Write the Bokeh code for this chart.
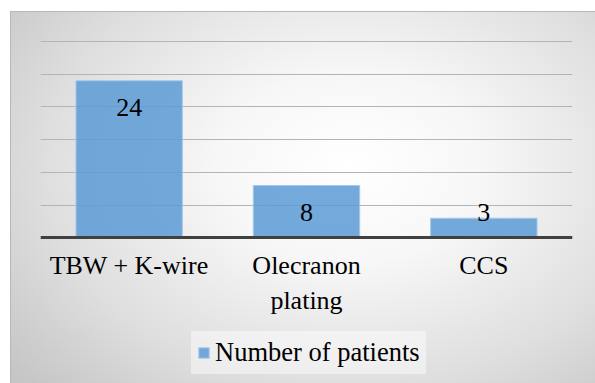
from bokeh.plotting import figure
from bokeh.models import (FactorRange, Range1d, ColumnDataSource, Legend, LegendItem,
                          FixedTicker)
from bokeh.core.properties import value
from bokeh.embed import file_html
from bokeh.resources import INLINE

# ---- data ----
categories = ["TBW + K-wire", "Olecranon\nplating", "CCS"]
patients = [24, 8, 3]
grid_ticks = [0, 5, 10, 15, 20, 25, 30]
series_name = "Number of patients"

FONT = "Liberation Serif"

label_y = [max(v - 4.15, 3.85) for v in patients]
src = ColumnDataSource(dict(cat=categories, val=patients, ly=label_y,
                            txt=[str(v) for v in patients]))

p = figure(x_range=FactorRange(*categories), y_range=Range1d(-22.4, 30.3),
           width=585, height=372, output_backend="svg", toolbar_location=None,
           min_border_left=29, min_border_right=24, min_border_top=27,
           min_border_bottom=0)
p.margin = (11, 0, 0, 10)
p.styles = {
    "background": "radial-gradient(ellipse 75% 85% at 58% 42%, #ffffff 0%, #f7f7f7 30%, #dedede 70%, #c6c6c6 100%)",
    "border-left": "1px solid #b8b8b8",
    "border-top": "1px solid #b8b8b8",
    "box-sizing": "border-box",
}
p.background_fill_alpha = 0
p.border_fill_alpha = 0
p.outline_line_color = None

r = p.vbar(x="cat", top="val", width=0.6, source=src,
           fill_color="#5b9bd5", fill_alpha=0.85,
           line_color="#a8c8e8", line_width=1)

p.text(x="cat", y="ly", text="txt", source=src, text_align="center",
       text_baseline="middle", text_font=value(FONT), text_font_size="26px",
       text_color="#000000")

p.yaxis.visible = False
p.ygrid.ticker = FixedTicker(ticks=grid_ticks)
p.ygrid.grid_line_color = "#b4b4b4"
p.ygrid.grid_line_width = 1.2
p.xgrid.grid_line_color = None

xa = p.xaxis[0]
xa.fixed_location = 0
xa.axis_line_color = "#404040"
xa.axis_line_width = 3
xa.major_tick_line_color = None
xa.minor_tick_line_color = None
xa.major_tick_out = 0
xa.major_tick_in = 0
xa.major_label_standoff = 13
xa.major_label_text_font = FONT
xa.major_label_text_font_size = "26px"
xa.major_label_text_color = "#000000"
xa.major_label_orientation = "horizontal"

legend = Legend(items=[LegendItem(label=series_name, renderers=[r])],
                location=(151, 10), orientation="horizontal",
                label_text_font=FONT, label_text_font_size="26.5px",
                label_text_color="#000000",
                glyph_width=13, glyph_height=13, label_standoff=5,
                background_fill_color="#ffffff", background_fill_alpha=0.45,
                border_line_alpha=0, padding=6, margin=0)
p.add_layout(legend, "center")

open("out.html", "w").write(file_html(p, INLINE))
